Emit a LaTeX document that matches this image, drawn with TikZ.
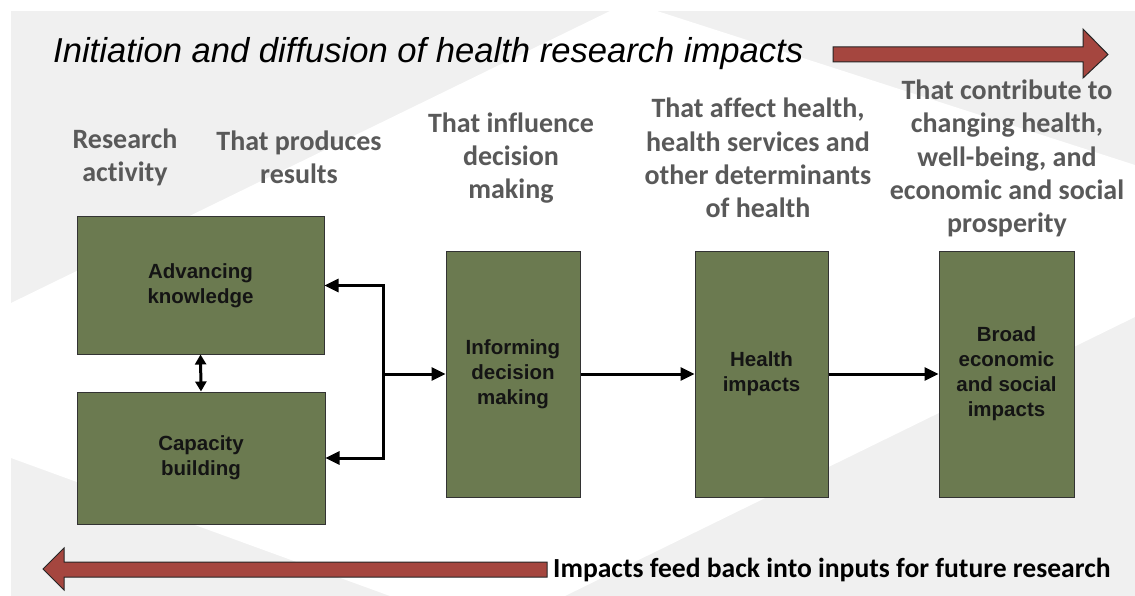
\documentclass[tikz,border=0pt]{standalone}
\usepackage{fontspec}
\setmainfont{Liberation Sans}
\newfontfamily\calfont[Ligatures=NoCommon]{Carlito}
\usetikzlibrary{arrows.meta}
\definecolor{bggray}{HTML}{F0F0F0}
\definecolor{boxgreen}{HTML}{6B7A50}
\definecolor{headgray}{HTML}{595959}
\definecolor{bigred}{HTML}{A5463F}
\tikzset{
  box/.style={draw=black!80, line width=1pt, fill=boxgreen, inner sep=0pt, align=center,
    font=\fontsize{20.5}{25}\selectfont\bfseries, text=black!92},
  head/.style={align=center, text=headgray, font=\calfont\fontsize{28}{33.2}\selectfont\bfseries},
  conn/.style={line width=3pt, -{Triangle[length=14pt,width=13pt]}},
  dconn/.style={line width=3pt, {Triangle[length=10pt,width=11pt]}-{Triangle[length=10pt,width=11pt]}},
  bigarrow/.style={fill=bigred, draw=black!85, line width=1pt}
}
\begin{document}
\begin{tikzpicture}[x=1pt,y=-1pt]
\useasboundingbox (0,0) rectangle (1135,596);
\fill[white] (0,0) rectangle (1135,596);
\fill[bggray] (11,11) rectangle (1135,596);
\fill[white] (610,11) -- (657,11) -- (1135,165) -- (1135,317) -- (565,596) -- (390,596) -- (11,458) -- (11,303) -- cycle;

% title
\node[anchor=base west, inner sep=0pt, font=\fontsize{34.6}{38}\selectfont\itshape] (title) at (53,63) {Initiation and diffusion of health research impacts};

% top big arrow
\path[bigarrow] (833,47) -- (1083,47) -- (1083,29) -- (1108,54.5) -- (1083,78) -- (1083,62) -- (833,62) -- cycle;

% bottom big arrow
\path[bigarrow] (547,562) -- (64,562) -- (64,548) -- (43,569) -- (64,590) -- (64,577) -- (547,577) -- cycle;
\node[anchor=base west, inner sep=0pt, font=\calfont\fontsize{27.6}{30}\selectfont\bfseries] (feedback) at (553,577) {Impacts feed back into inputs for future research};

% headings
\node[head] (h1) at (125,157.5) {Research\\activity};
\node[head] (h2) at (299,157.5) {That produces\\results};
\node[head] (h3) at (511,158) {That influence\\decision\\making};
\node[head] (h4) at (758,158) {That affect health,\\health services and\\other determinants\\of health};
\node[head] (h5) at (1007,158.5) {That contribute to\\changing health,\\well-being, and\\economic and social\\prosperity};

% boxes
\node[box, minimum width=247pt, minimum height=137pt] (adv) at (200.5,285.5) {Advancing\\knowledge};
\node[box, minimum width=248pt, minimum height=132pt] (cap) at (201,458) {Capacity\\building};
\node[box, minimum width=134pt, minimum height=246pt] (inf) at (513,374) {Informing\\decision\\making};
\node[box, minimum width=133pt, minimum height=246pt] (hea) at (761.5,374) {Health\\impacts};
\node[box, minimum width=135pt, minimum height=246pt] (bro) at (1006.5,374) {Broad\\economic\\and social\\impacts};

% connectors
\coordinate (j) at (383,374);
\draw[conn] (j) |- (adv.east);
\draw[conn] (j) |- (cap.east);
\draw[conn] (j) -- (inf.west);
\draw[conn] (inf.east) -- (hea.west);
\draw[conn] (hea.east) -- (bro.west);
\draw[dconn] (adv.south) -- (cap.north);
\end{tikzpicture}
\end{document}
